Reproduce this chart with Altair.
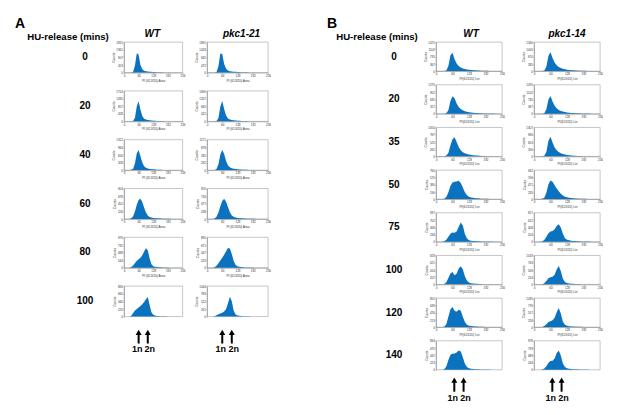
import altair as alt
import pandas as pd

BLUE = "#0b72c0"
FONT = "Liberation Sans"

# positions (PI channel) at which histogram counts were read, 8-unit steps
PI_POS = list(range(0, 256, 8))

# ---------------- Panel A ----------------
A_times = ["0", "20", "40", "60", "80", "100"]
A_wt_max = [1815, 1714, 1312, 904, 976, 880]
A_pkc_max = [1891, 1690, 1171, 955, 895, 1044]
A_wt_0 = [0, 0, 0, 0, 0, 40, 420, 1150, 1050, 450, 200, 110, 75, 55, 45, 38, 30, 25, 20, 16, 12, 9, 7, 5, 4, 3, 2, 0, 0, 0, 0, 0]
A_wt_20 = [0, 0, 0, 0, 0, 20, 200, 850, 1130, 650, 300, 150, 95, 70, 55, 45, 36, 28, 22, 17, 13, 10, 8, 6, 4, 3, 2, 0, 0, 0, 0, 0]
A_wt_40 = [0, 0, 0, 0, 10, 60, 300, 720, 860, 600, 330, 170, 100, 70, 52, 40, 32, 25, 20, 15, 12, 9, 7, 5, 4, 3, 2, 0, 0, 0, 0, 0]
A_wt_60 = [0, 0, 0, 0, 20, 80, 220, 420, 560, 600, 500, 340, 190, 100, 60, 40, 30, 22, 17, 13, 10, 8, 6, 4, 3, 2, 0, 0, 0, 0, 0, 0]
A_wt_80 = [0, 0, 0, 0, 20, 70, 150, 220, 270, 320, 400, 520, 620, 560, 300, 110, 50, 30, 20, 15, 11, 8, 6, 4, 3, 2, 0, 0, 0, 0, 0, 0]
A_wt_100 = [0, 0, 0, 0, 20, 100, 170, 220, 260, 300, 350, 420, 500, 565, 330, 120, 50, 28, 18, 13, 10, 8, 6, 4, 3, 2, 0, 0, 0, 0, 0, 0]
A_pkc_0 = [0, 0, 0, 0, 0, 30, 380, 1180, 1150, 520, 230, 120, 80, 60, 48, 40, 32, 26, 20, 15, 12, 9, 7, 5, 4, 3, 2, 0, 0, 0, 0, 0]
A_pkc_20 = [0, 0, 0, 0, 0, 20, 180, 820, 1120, 680, 320, 160, 100, 72, 56, 45, 36, 28, 22, 17, 13, 10, 8, 6, 4, 3, 2, 0, 0, 0, 0, 0]
A_pkc_40 = [0, 0, 0, 0, 5, 40, 220, 600, 770, 620, 350, 180, 105, 70, 52, 40, 32, 25, 20, 15, 12, 9, 7, 5, 4, 3, 2, 0, 0, 0, 0, 0]
A_pkc_60 = [0, 0, 0, 0, 15, 70, 200, 400, 560, 630, 540, 370, 210, 110, 65, 42, 30, 22, 17, 13, 10, 8, 6, 4, 3, 2, 0, 0, 0, 0, 0, 0]
A_pkc_80 = [0, 0, 0, 0, 15, 55, 130, 210, 290, 380, 480, 580, 560, 400, 200, 80, 40, 25, 17, 12, 9, 7, 5, 4, 3, 2, 0, 0, 0, 0, 0, 0]
A_pkc_100 = [0, 0, 0, 0, 10, 40, 75, 100, 130, 170, 260, 450, 680, 520, 200, 70, 35, 22, 15, 11, 8, 6, 5, 4, 3, 2, 0, 0, 0, 0, 0, 0]
A_wt = [A_wt_0, A_wt_20, A_wt_40, A_wt_60, A_wt_80, A_wt_100]
A_pkc = [A_pkc_0, A_pkc_20, A_pkc_40, A_pkc_60, A_pkc_80, A_pkc_100]
A_arrows = [64, 104]

# ---------------- Panel B ----------------
B_times = ["0", "20", "35", "50", "75", "100", "120", "140"]
B_wt_max = [1470, 1270, 1050, 760, 937, 828, 852, 894]
B_pkc_max = [1340, 1470, 1307, 942, 817, 1018, 1035, 978]
B_wt_0 = [0, 0, 0, 0, 0, 30, 250, 800, 930, 600, 380, 250, 180, 130, 100, 80, 62, 50, 40, 32, 25, 20, 15, 12, 9, 7, 5, 3, 2, 0, 0, 0]
B_wt_20 = [0, 0, 0, 0, 0, 20, 150, 550, 760, 680, 450, 290, 200, 145, 110, 85, 66, 52, 42, 33, 26, 20, 16, 12, 9, 7, 5, 3, 2, 0, 0, 0]
B_wt_35 = [0, 0, 0, 0, 5, 30, 120, 400, 620, 690, 520, 340, 220, 150, 110, 85, 65, 52, 42, 33, 26, 20, 16, 12, 9, 7, 5, 3, 2, 0, 0, 0]
B_wt_50 = [0, 0, 0, 0, 10, 50, 180, 340, 430, 450, 460, 480, 420, 300, 180, 100, 60, 40, 30, 22, 17, 13, 10, 8, 6, 4, 3, 2, 0, 0, 0, 0]
B_wt_75 = [0, 0, 0, 0, 10, 60, 160, 260, 300, 290, 330, 480, 620, 520, 250, 100, 50, 32, 24, 18, 14, 11, 8, 6, 5, 4, 3, 2, 0, 0, 0, 0]
B_wt_100 = [0, 0, 0, 0, 10, 60, 180, 310, 355, 260, 300, 450, 520, 430, 230, 100, 50, 32, 24, 18, 14, 11, 8, 6, 5, 4, 3, 2, 0, 0, 0, 0]
B_wt_120 = [0, 0, 0, 0, 10, 80, 300, 520, 590, 480, 450, 510, 480, 300, 150, 70, 40, 28, 21, 16, 12, 9, 7, 5, 4, 3, 2, 0, 0, 0, 0, 0]
B_wt_140 = [0, 0, 0, 0, 15, 100, 300, 460, 490, 500, 530, 590, 560, 380, 180, 80, 45, 30, 22, 17, 13, 10, 8, 6, 5, 4, 3, 2, 0, 0, 0, 0]
B_pkc_0 = [0, 0, 0, 0, 0, 20, 200, 700, 870, 600, 390, 260, 185, 135, 100, 78, 60, 48, 38, 30, 24, 19, 15, 11, 8, 6, 4, 3, 2, 0, 0, 0]
B_pkc_20 = [0, 0, 0, 0, 0, 25, 220, 720, 900, 620, 400, 270, 190, 140, 105, 80, 62, 50, 40, 32, 25, 20, 15, 12, 9, 7, 5, 3, 2, 0, 0, 0]
B_pkc_35 = [0, 0, 0, 0, 0, 25, 200, 700, 880, 620, 400, 270, 190, 140, 105, 80, 62, 50, 40, 32, 25, 20, 15, 12, 9, 7, 5, 3, 2, 0, 0, 0]
B_pkc_50 = [0, 0, 0, 0, 5, 40, 200, 480, 600, 560, 450, 340, 250, 170, 110, 75, 55, 42, 33, 26, 20, 16, 12, 9, 7, 5, 4, 3, 2, 0, 0, 0]
B_pkc_75 = [0, 0, 0, 0, 10, 50, 140, 240, 290, 300, 350, 440, 490, 400, 220, 100, 55, 38, 28, 21, 16, 12, 9, 7, 5, 4, 3, 2, 0, 0, 0, 0]
B_pkc_100 = [0, 0, 0, 0, 5, 40, 120, 210, 250, 270, 340, 520, 640, 470, 200, 85, 45, 30, 22, 17, 13, 10, 8, 6, 5, 4, 3, 2, 0, 0, 0, 0]
B_pkc_120 = [0, 0, 0, 0, 5, 35, 100, 180, 210, 240, 330, 530, 680, 480, 190, 80, 45, 30, 22, 17, 13, 10, 8, 6, 5, 4, 3, 2, 0, 0, 0, 0]
B_pkc_140 = [0, 0, 0, 0, 5, 40, 120, 230, 290, 300, 380, 560, 645, 480, 210, 90, 48, 32, 24, 18, 14, 11, 8, 6, 5, 4, 3, 2, 0, 0, 0, 0]
B_wt = [B_wt_0, B_wt_20, B_wt_35, B_wt_50, B_wt_75, B_wt_100, B_wt_120, B_wt_140]
B_pkc = [B_pkc_0, B_pkc_20, B_pkc_35, B_pkc_50, B_pkc_75, B_pkc_100, B_pkc_120, B_pkc_140]
B_arrows = [71, 107]

PLOIDY = ["1n", "2n"]

AX = dict(
    labelFontSize=3, titleFontSize=3.2, tickSize=1, tickWidth=0.5,
    labelPadding=0.6, titlePadding=0.8, domainWidth=0.6,
    domainColor="#8a8a8a", tickColor="#8a8a8a", labelColor="#333333",
    titleColor="#333333", titleFontWeight="normal", grid=False,
    labelFlush=False, labelOverlap=False, labelFont=FONT, titleFont=FONT,
)
XSCALE = alt.Scale(domain=[0, 256], nice=False, zero=False)


def hist(counts, ymax, w, h, xtitle, title=None, tdx=0, arrows=None, arr_y=None):
    df = pd.DataFrame({"pi": PI_POS, "count": counts})
    yt = [ymax * k / 4 for k in range(5)]
    area = alt.Chart(df).mark_area(color=BLUE, interpolate="linear").encode(
        x=alt.X("pi:Q", scale=XSCALE,
                axis=alt.Axis(values=[0, 64, 128, 192, 256], title=xtitle, **AX)),
        y=alt.Y("count:Q", scale=alt.Scale(domain=[0, ymax], nice=False),
                axis=alt.Axis(values=yt, labelExpr="'' + floor(datum.value)",
                              title="Counts", **AX)),
    )
    layers = [area]
    if arrows is not None:
        tip, bottom, txt_y = arr_y
        adf = pd.DataFrame({"pi": arrows, "lab": PLOIDY})
        base = alt.Chart(adf).encode(x=alt.X("pi:Q", scale=XSCALE, axis=None))
        layers.append(base.mark_rule(strokeWidth=2, color="black").encode(
            y=alt.value(tip + 3), y2=alt.value(bottom)))
        layers.append(base.mark_point(shape="triangle-up", filled=True,
                                      color="black", size=36, opacity=1).encode(
            y=alt.value(tip + 2.8)))
        for lab, ddx in (("1n", -1.5), ("2n", 2.0)):
            layers.append(base.transform_filter(alt.datum.lab == lab).mark_text(
                fontSize=9, fontWeight="bold", font=FONT, color="black", dx=ddx
            ).encode(y=alt.value(txt_y), text="lab:N"))
    ch = alt.layer(*layers).properties(
        width=w, height=h,
        view=alt.ViewBackground(stroke="#a0a0a0", strokeWidth=0.6))
    if title:
        ch = ch.properties(title=alt.TitleParams(
            title, fontSize=10, fontWeight="bold", fontStyle="italic", font=FONT,
            offset=2, anchor="middle", dx=tdx, color="black"))
    return ch


def label_chart(text, w, h, dx, title=None, tdx=0):
    ch = alt.Chart(pd.DataFrame({"t": [text]})).mark_text(
        fontSize=10, fontWeight="bold", dx=dx, font=FONT, color="black"
    ).encode(text="t:N").properties(width=w, height=h)
    if title:
        ch = ch.properties(title=alt.TitleParams(
            title, fontSize=9.6, fontWeight="bold", font=FONT, offset=0,
            anchor="middle", dx=tdx, color="black"))
    return ch


def panel(times, wt, wt_max, pkc, pkc_max, lw, gap, ww, pw, ldx, xtitle,
          pkc_name, row_h, row_sp, arrows, arr_y, hu_dx, wt_dx, pkc_dx,
          letter, letter_dx):
    cells = []
    n = len(times)
    for i, t in enumerate(times):
        first = i == 0
        last = i == n - 1
        cells.append(label_chart(t, lw, row_h, ldx,
                                 title="HU-release (mins)" if first else None,
                                 tdx=hu_dx))
        cells.append(hist(wt[i], wt_max[i], ww, row_h, xtitle,
                          title="WT" if first else None, tdx=wt_dx,
                          arrows=arrows if last else None, arr_y=arr_y))
        cells.append(hist(pkc[i], pkc_max[i], pw, row_h, xtitle,
                          title=pkc_name if first else None, tdx=pkc_dx,
                          arrows=arrows if last else None, arr_y=arr_y))
    return alt.concat(
        *cells, columns=3, bounds="flush", align="each",
        spacing={"row": row_sp, "column": gap},
        title=alt.TitleParams(letter, anchor="start", fontSize=14,
                              fontWeight="bold", font=FONT, dx=letter_dx,
                              offset=-2, color="black"))


panelA = panel(A_times, A_wt, A_wt_max, A_pkc, A_pkc_max,
               88, 24, 58.5, 61, 29, "PI (613/20) Area", "pkc1-21",
               30.5, 17.8, A_arrows, (43.5, 57.5, 63), 12, -1, 4, "A", 3)
panelB = panel(B_times, B_wt, B_wt_max, B_pkc, B_pkc_max,
               77, 32, 66, 66, 28.5, "PI(613/20) Lin", "pkc1-14",
               29, 13.67, B_arrows, (36.6, 51, 57.1), 11.5, 2, 0, "B", 0)

chart = alt.hconcat(panelA, panelB, spacing=56).properties(
    padding={"left": 4, "top": 8, "right": 0, "bottom": 0}
).configure_view(stroke=None).configure(font=FONT, background="white")

chart.save("out.html", embed_options={"renderer": "svg", "actions": False})
